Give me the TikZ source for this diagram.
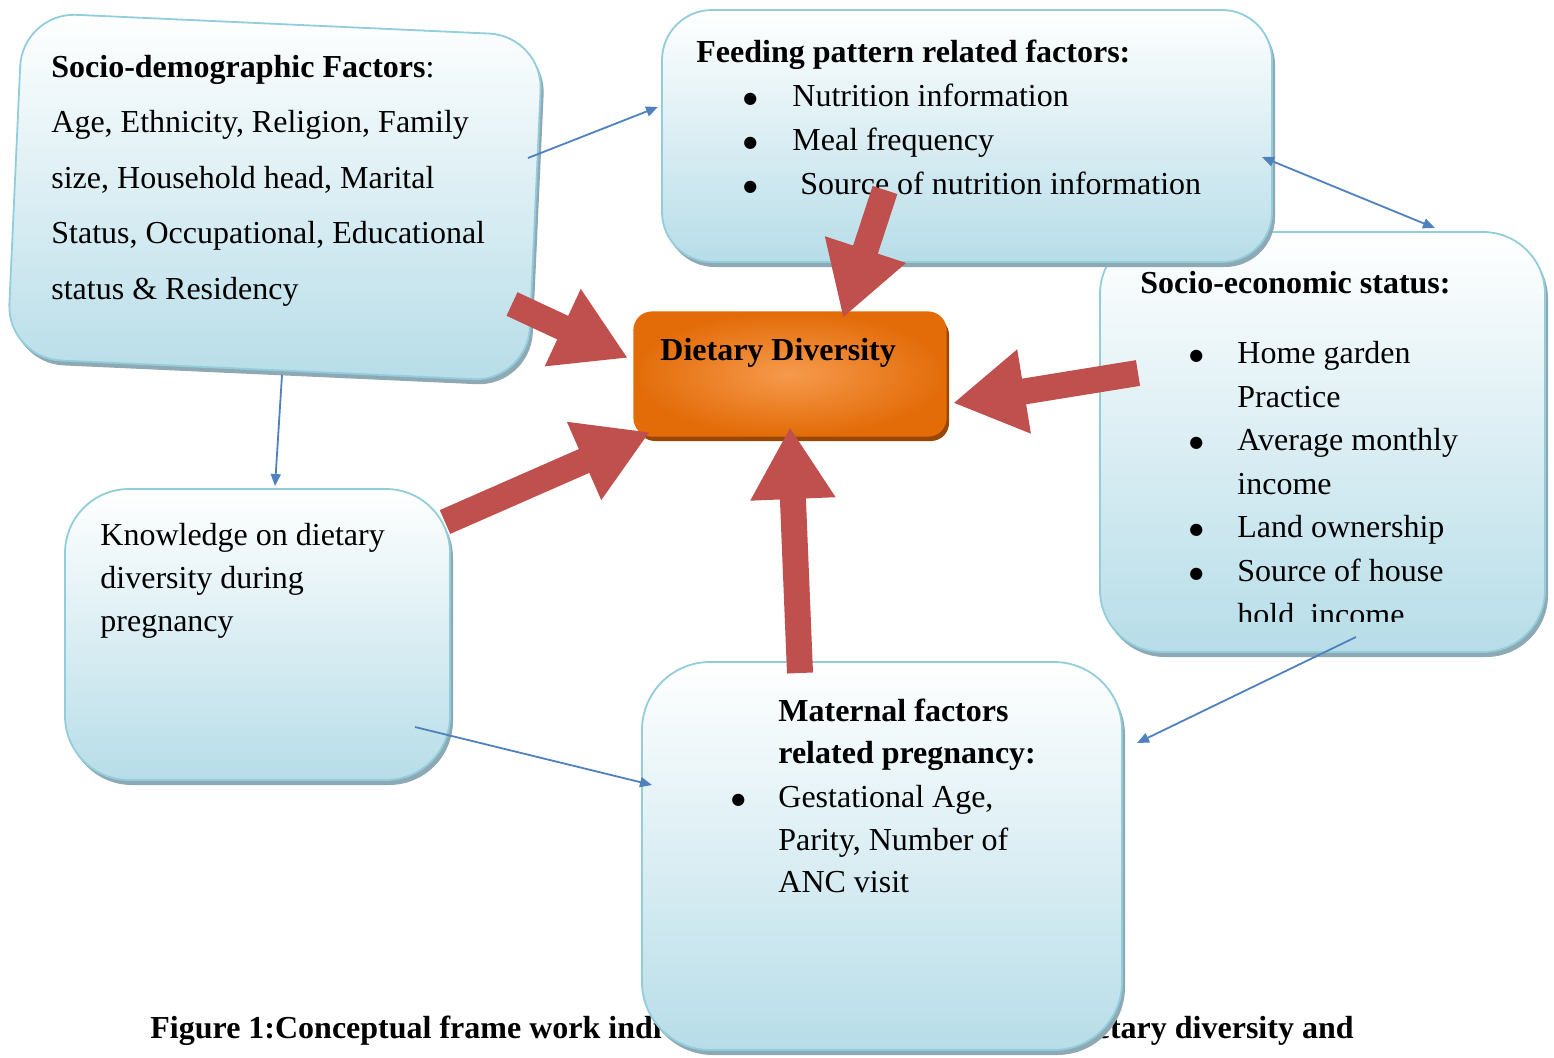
\documentclass[tikz,border=0pt]{standalone}
\usepackage{fontspec}
\setmainfont{Liberation Serif}
\newfontfamily\dotfont{DejaVu Sans}
\usetikzlibrary{arrows.meta,shadows}

\definecolor{boxline}{HTML}{92CDDC}
\definecolor{boxfill}{HTML}{B7DDE8}
\definecolor{boxshade}{HTML}{8EA9B3}
\definecolor{ddorange}{HTML}{E36C09}
\definecolor{ddlight}{HTML}{F69A4C}
\definecolor{ddshade}{HTML}{974806}
\definecolor{redarrow}{HTML}{C0504D}
\definecolor{bluelink}{HTML}{4F81BD}

\tikzset{
  factor/.style={draw=boxline, line width=0.9pt, top color=white, bottom color=boxfill, inner sep=0pt,
    drop shadow={shadow xshift=1.5pt, shadow yshift=-2.5pt, fill=boxshade, opacity=1}},
  ddbox/.style={draw=ddorange, line width=0.6pt, rounded corners=9pt, inner color=ddlight, outer color=ddorange,
    inner sep=0pt, drop shadow={shadow xshift=1.5pt, shadow yshift=-2.5pt, fill=ddshade, opacity=1}},
  factor text/.style={anchor=north west, inner sep=0pt, align=left, font=\fontsize{16}{#1}\selectfont},
  factor text/.default=22,
  caption/.style={inner sep=0pt, font=\fontsize{16}{20}\selectfont\bfseries},
  influence/.style={draw=redarrow, line width=13pt, -{Triangle[width=40pt,length=36pt]}},
  link/.style={draw=bluelink, line width=0.9pt, -{Triangle[width=5pt,length=6pt]}},
  link both/.style={draw=bluelink, line width=0.9pt, {Triangle[width=5pt,length=6pt]}-{Triangle[width=5pt,length=6pt]}}
}

\newcommand{\bulletitem}[1]{\makebox[#1][l]{\raisebox{1.6pt}{\fontsize{8}{9}\dotfont ●}}}

\begin{document}
\begin{tikzpicture}[x=0.5pt, y=-0.5pt]
\useasboundingbox (0,0) rectangle (1554,1057);

% caption, partly hidden behind the maternal box
\node[caption, anchor=base west] (capL) at (150,1038) {Figure 1:Conceptual frame work indi};
\node[caption, anchor=base east] (capR) at (1354,1038) {etary diversity and};

% factor boxes
\node[factor, rounded corners=27pt, rotate=-2.6, minimum width=260.5pt, minimum height=173pt] (sdBox) at (275,197) {};
\node[factor, rounded corners=31pt, minimum width=222.5pt, minimum height=210pt] (seBox) at (1322.5,442) {};
\node[factor, rounded corners=25pt, minimum width=305pt, minimum height=126pt] (fpBox) at (967,136) {};
\node[factor, rounded corners=32pt, minimum width=192.5pt, minimum height=145.5pt] (knBox) at (257.5,634.5) {};
\node[factor, rounded corners=34pt, minimum width=240pt, minimum height=194pt] (mfBox) at (882,856) {};
\node[ddbox, minimum width=156pt, minimum height=62pt] (ddBox) at (790,374) {};

% box texts
\node[factor text=27.75] (sdText) at (51,38.1) {\strut\textbf{Socio-demographic Factors}:\\
  Age, Ethnicity, Religion, Family\\
  size, Household head, Marital\\
  Status, Occupational, Educational\\
  status \& Residency};
\node[factor text] (fpText) at (696,31.2) {\strut\textbf{Feeding pattern related factors:}\\
  \hspace*{23.5pt}\bulletitem{24.5pt}Nutrition information\\
  \hspace*{23.5pt}\bulletitem{24.5pt}Meal frequency\\
  \hspace*{23.5pt}\bulletitem{28.5pt}Source of nutrition information};
\begin{scope}
  \clip (1100,232) rectangle (1545,621);
  \node[factor text=21.8] (seText) at (1140,262.5) {\strut\textbf{Socio-economic status:}\\[13.2pt]
    \hspace*{24.5pt}\bulletitem{24pt}Home garden\\
    \hspace*{48.5pt}Practice\\
    \hspace*{24.5pt}\bulletitem{24pt}Average monthly\\
    \hspace*{48.5pt}income\\
    \hspace*{24.5pt}\bulletitem{24pt}Land ownership\\
    \hspace*{24.5pt}\bulletitem{24pt}Source of house\\
    \hspace*{48.5pt}hold\ \ income};
\end{scope}
\node[factor text=21.5] (knText) at (100,514.9) {\strut Knowledge on dietary\\
  diversity during\\
  pregnancy};
\node[factor text=21.25] (mfText) at (731,691.25) {\strut\hspace*{23.5pt}\textbf{Maternal factors}\\
  \hspace*{23.5pt}\textbf{related pregnancy:}\\[0.75pt]
  \bulletitem{23.5pt}Gestational Age,\\
  \hspace*{23.5pt}Parity, Number of\\
  \hspace*{23.5pt}ANC visit};
\node[caption, anchor=base west] (ddText) at (660,360) {Dietary Diversity};

% links between factors
\coordinate (sdOut) at (528,158);
\coordinate (fpIn) at (658,107);
\coordinate (fpEnd) at (1262,157);
\coordinate (seEnd) at (1435,228);
\coordinate (sdDown) at (282,375);
\coordinate (knIn) at (275,486);
\coordinate (knOut) at (415,727);
\coordinate (mfInL) at (652,785);
\coordinate (seOut) at (1356,637);
\coordinate (mfInR) at (1137,743);
\draw[link] (sdOut) -- (fpIn);
\draw[link both] (fpEnd) -- (seEnd);
\draw[link] (sdDown) -- (knIn);
\draw[link] (knOut) -- (mfInL);
\draw[link] (seOut) -- (mfInR);

% influences on dietary diversity
\coordinate (sdTail) at (512,304);
\coordinate (sdTip) at (628,358);
\coordinate (fpTail) at (885,190);
\coordinate (fpTip) at (843,318);
\coordinate (seTail) at (1138,373);
\coordinate (seTip) at (953,403);
\coordinate (knTail) at (445,522);
\coordinate (knTip) at (650,432);
\coordinate (mfTail) at (800,673);
\coordinate (mfTip) at (790,427);
\draw[influence] (sdTail) -- (sdTip);
\draw[influence] (fpTail) -- (fpTip);
\draw[influence] (seTail) -- (seTip);
\draw[influence] (knTail) -- (knTip);
\draw[influence] (mfTail) -- (mfTip);
\end{tikzpicture}
\end{document}
